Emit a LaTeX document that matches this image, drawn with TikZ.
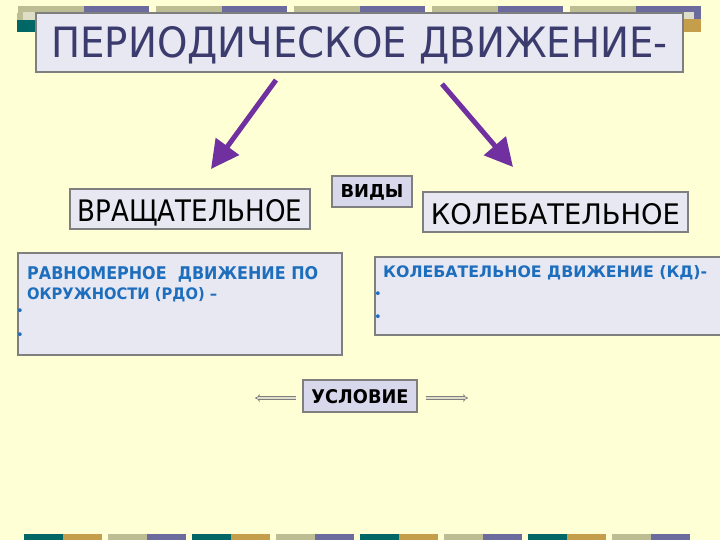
\documentclass[tikz,border=0pt]{standalone}
\usepackage{fontspec}
\setmainfont{DejaVu Sans}
\usetikzlibrary{arrows.meta}
\definecolor{bg}{HTML}{FFFFD6}
\definecolor{olivec}{HTML}{BDBD94}
\definecolor{purplec}{HTML}{6B6B9E}
\definecolor{tealc}{HTML}{006666}
\definecolor{goldc}{HTML}{C49E4A}
\definecolor{palec}{HTML}{DEDEC8}
\definecolor{boxfill}{HTML}{E8E8F2}
\definecolor{boxfilltwo}{HTML}{D8D8EC}
\definecolor{framegray}{HTML}{7F7F7F}
\definecolor{titlecol}{HTML}{3B3B6E}
\definecolor{bluetext}{HTML}{1E6EBE}
\definecolor{arrowpurple}{HTML}{7030A0}
\newcommand\fittext[3]{\resizebox{#1pt}{#2pt}{#3}}
\begin{document}
\begin{tikzpicture}[x=1pt,y=-1pt,
  frame/.style={draw=framegray, line width=1.2pt, fill=boxfill, inner sep=0pt},
  smallframe/.style={frame, fill=boxfilltwo},
  bluetxt/.style={anchor=base west, inner sep=0pt, text=bluetext},
  bulletnode/.style={inner sep=0pt, text=bluetext, font=\fontsize{13}{13}\selectfont},
  parrow/.style={draw=arrowpurple, line width=5pt, -{Triangle[length=28pt,width=28pt]}},
  hollow/.style={draw=framegray, double=palec, line width=0.7pt, double distance=1.8pt, -{Implies}}]
\useasboundingbox (0,0) rectangle (720,540);
\fill[bg] (0,0) rectangle (720,540);
% top decoration
\foreach \k in {0,...,4}{
  \fill[olivec] (18+138*\k,6) rectangle (84+138*\k,13);
  \fill[purplec] (84+138*\k,6) rectangle (149+138*\k,13);
}
\fill[olivec] (17,13) rectangle (23,20);
\fill[palec] (23,12) rectangle (36,20);
\fill[tealc] (17,20) rectangle (36,32);
\fill[purplec] (694,12) rectangle (701,19);
\fill[palec] (684,12) rectangle (694,19);
\fill[goldc] (684,19) rectangle (701,32);
% bottom decoration
\foreach \k in {0,2,4,6}{
  \fill[tealc] (24+84*\k,534) rectangle (63+84*\k,540);
  \fill[goldc] (63+84*\k,534) rectangle (102+84*\k,540);
}
\foreach \k in {1,3,5,7}{
  \fill[olivec] (24+84*\k,534) rectangle (63+84*\k,540);
  \fill[purplec] (63+84*\k,534) rectangle (102+84*\k,540);
}
% title
\node[frame, minimum width=647pt, minimum height=59pt, text height=31pt, text depth=0pt, text=titlecol] (title) at (359.5,42.5) {\fittext{616}{31}{ПЕРИОДИЧЕСКОЕ ДВИЖЕНИЕ-}};
% arrows
\coordinate (a1s) at (276,80);
\coordinate (a1e) at (211,169);
\coordinate (a2s) at (442,84);
\coordinate (a2e) at (513,167);
\draw[parrow] (a1s) -- (a1e);
\draw[parrow] (a2s) -- (a2e);
% kinds
\node[frame, minimum width=240pt, minimum height=40pt, text height=26pt, text depth=0pt] (vr) at (190,209) {\fittext{225}{22}{ВРАЩАТЕЛЬНОЕ}};
\node[frame, minimum width=265pt, minimum height=40pt, text height=24pt, text depth=0pt] (kol) at (555.5,212) {\fittext{249}{21}{КОЛЕБАТЕЛЬНОЕ}};
\node[smallframe, minimum width=80pt, minimum height=31pt, text height=13pt, text depth=0pt] (vidy) at (372,191.5) {\fittext{63}{13}{\bfseries ВИДЫ}};
% description boxes
\node[frame, minimum width=324pt, minimum height=102pt] (rdo) at (180,304) {};
\node[bluetxt] (rdoa) at (27,279) {\fittext{291}{13}{\bfseries РАВНОМЕРНОЕ\ \ ДВИЖЕНИЕ ПО}};
\node[bluetxt] (rdob) at (27,299) {\fittext{190}{12}{\bfseries ОКРУЖНОСТИ (РДО) –}};
\node[bulletnode] (rb1) at (20,312) {•};
\node[bulletnode] (rb2) at (20,336) {•};
\node[frame, minimum width=347pt, minimum height=78pt] (kd) at (548.5,296) {};
\node[bluetxt] (kda) at (383,277) {\fittext{324}{12}{\bfseries КОЛЕБАТЕЛЬНОЕ ДВИЖЕНИЕ (КД)-}};
\node[bulletnode] (kb1) at (378,295) {•};
\node[bulletnode] (kb2) at (378,318) {•};
% condition
\node[smallframe, minimum width=114pt, minimum height=32pt, text height=14pt, text depth=0pt] (usl) at (360,396) {\fittext{97}{14}{\bfseries УСЛОВИЕ}};
\coordinate (cl) at (255,398);
\coordinate (cr) at (468,398);
\draw[hollow, shorten <=6pt] (usl.west |- cl) -- (cl);
\draw[hollow, shorten <=8pt] (usl.east |- cr) -- (cr);
\end{tikzpicture}
\end{document}
